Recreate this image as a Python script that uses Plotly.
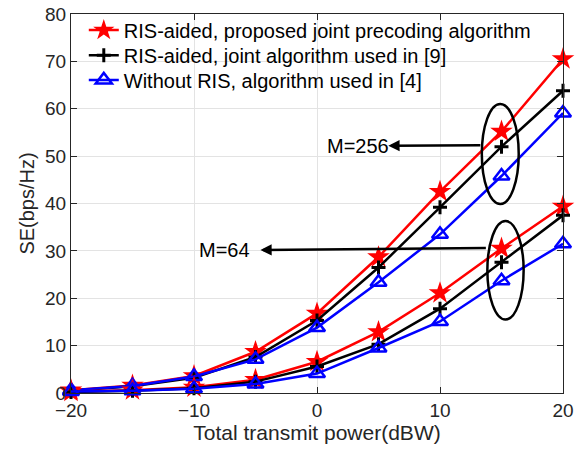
import plotly.graph_objects as go

power_dbw = [-20, -15, -10, -5, 0, 5, 10, 15, 20]

names = [
    "RIS-aided, proposed joint precoding algorithm",
    "RIS-aided, joint algorithm used in [9]",
    "Without RIS, algorithm used in [4]",
]

se_m256_proposed = [0.6, 1.6, 3.6, 8.7, 16.8, 28.7, 42.5, 55.2, 70.5]
se_m256_joint9 = [0.5, 1.4, 3.2, 7.6, 15.3, 26.5, 39.2, 52.0, 63.8]
se_m256_noris = [0.6, 1.5, 3.5, 7.1, 13.8, 23.4, 33.5, 45.8, 59.1]

se_m64_proposed = [0.3, 0.6, 1.2, 2.8, 6.6, 12.9, 21.1, 30.5, 39.4]
se_m64_joint9 = [0.2, 0.5, 1.0, 2.4, 5.6, 10.3, 17.8, 27.6, 37.5]
se_m64_noris = [0.3, 0.5, 0.9, 1.9, 4.1, 9.5, 15.1, 23.7, 31.5]

x_ticks = [-20, -10, 0, 10, 20]
y_ticks = [0, 10, 20, 30, 40, 50, 60, 70, 80]

FONT = "Liberation Sans, Arial, Helvetica, sans-serif"

styles = [
    dict(color="#ff0000", symbol="star", size=17, lw=0),
    dict(color="#000000", symbol="cross-thin", size=10, lw=3),
    dict(color="#0000ff", symbol="triangle-up-open", size=14, lw=2.5),
]
legend_ids = ["legend", "legend2", "legend3"]
legend_rows_y = [0.955, 0.889, 0.824]

groups = [
    [se_m256_proposed, se_m256_joint9, se_m256_noris],
    [se_m64_proposed, se_m64_joint9, se_m64_noris],
]

fig = go.Figure()
for gi, grp in enumerate(groups):
    for si, ys in enumerate(grp):
        st = styles[si]
        marker = dict(symbol=st["symbol"], size=st["size"], color=st["color"])
        if st["lw"]:
            marker["line"] = dict(color=st["color"], width=st["lw"])
        fig.add_trace(go.Scatter(
            x=power_dbw, y=ys, mode="lines+markers",
            name=names[si], legendgroup=names[si], showlegend=(gi == 0),
            legend=legend_ids[si],
            line=dict(color=st["color"], width=2.5),
            marker=marker, cliponaxis=False,
        ))

# ellipses and arrows (annotation geometry in data units)
ellipses = [
    (13.4, 39.9, 16.4, 61.0),
    (13.85, 15.5, 16.8, 36.3),
]
for x0, y0, x1, y1 in ellipses:
    fig.add_shape(type="circle", xref="x", yref="y", x0=x0, y0=y0, x1=x1, y1=y1,
                  line=dict(color="black", width=2.5))

arrows = [
    dict(head=(5.8, 52.2), tail=(13.4, 52.3), label="M=256", lx=3.3),
    dict(head=(-4.6, 30.2), tail=(13.85, 30.6), label="M=64", lx=-7.5),
]
for a in arrows:
    fig.add_annotation(x=a["head"][0], y=a["head"][1], ax=a["tail"][0], ay=a["tail"][1],
                       xref="x", yref="y", axref="x", ayref="y", text="",
                       showarrow=True, arrowhead=2, arrowsize=0.9, arrowwidth=2.5,
                       arrowcolor="black")
    fig.add_annotation(x=a["lx"], y=a["head"][1], xref="x", yref="y", text=a["label"],
                       showarrow=False, font=dict(family=FONT, size=20, color="black"))

axis_common = dict(
    showgrid=True, gridcolor="#e3e3e3", gridwidth=1,
    showline=True, linecolor="#262626", linewidth=1.2, mirror="ticks",
    ticks="inside", ticklen=6, tickcolor="#262626", zeroline=False,
    tickfont=dict(family=FONT, size=19, color="#262626"), automargin=False,
)

legend_common = dict(x=0.026, xanchor="left", yanchor="middle",
                     bgcolor="rgba(0,0,0,0)", borderwidth=0,
                     font=dict(family=FONT, size=20, color="black"),
                     itemwidth=30, tracegroupgap=0)

fig.update_layout(
    width=582, height=454,
    margin=dict(l=71, r=19, t=13, b=61),
    plot_bgcolor="white", paper_bgcolor="white",
    xaxis=dict(range=[-20, 20], tickvals=x_ticks,
               title=dict(text="Total transmit power(dBW)", standoff=4,
                          font=dict(family=FONT, size=21, color="#262626")),
               **axis_common),
    yaxis=dict(range=[0, 80], tickvals=y_ticks,
               title=dict(text="SE(bps/Hz)", standoff=4,
                          font=dict(family=FONT, size=20, color="#262626")),
               **axis_common),
    legend=dict(y=legend_rows_y[0], **legend_common),
    legend2=dict(y=legend_rows_y[1], **legend_common),
    legend3=dict(y=legend_rows_y[2], **legend_common),
    showlegend=True,
)

fig.write_html("out.html")
